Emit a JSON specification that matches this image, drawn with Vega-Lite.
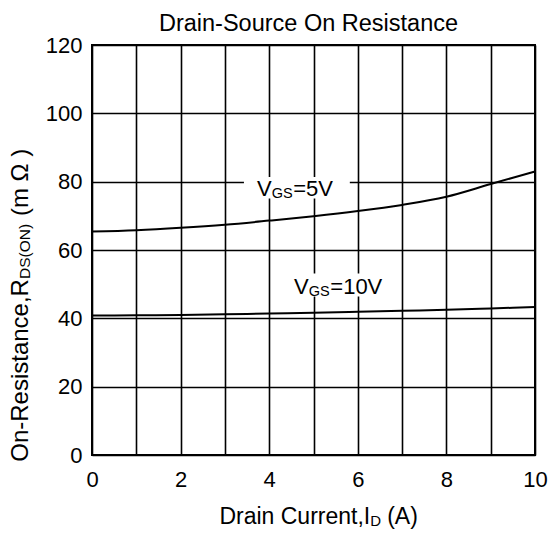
{
  "$schema": "https://vega.github.io/schema/vega-lite/v6.json",
  "width": 443,
  "height": 410,
  "autosize": {"type": "none"},
  "padding": {"left": 92, "top": 45, "right": 13, "bottom": 78},
  "background": "white",
  "title": {
    "text": "Drain-Source On Resistance",
    "font": "Liberation Sans",
    "fontSize": 23.5,
    "fontWeight": "normal",
    "color": "black",
    "anchor": "middle",
    "dx": -5,
    "offset": -1
  },
  "config": {
    "font": "Liberation Sans",
    "view": {"stroke": "black", "strokeWidth": 2},
    "axis": {
      "grid": true,
      "gridColor": "black",
      "gridWidth": 1.6,
      "gridOpacity": 1,
      "domain": false,
      "ticks": false,
      "tickSize": 0,
      "labelFlush": false,
      "labelFont": "Liberation Sans",
      "labelFontSize": 22,
      "labelColor": "black"
    }
  },
  "datasets": {
    "curves": [
      {"I": 0, "R": 65.4, "VGS": "5V"},
      {"I": 1, "R": 65.8, "VGS": "5V"},
      {"I": 2, "R": 66.5, "VGS": "5V"},
      {"I": 3, "R": 67.4, "VGS": "5V"},
      {"I": 4, "R": 68.6, "VGS": "5V"},
      {"I": 5, "R": 69.9, "VGS": "5V"},
      {"I": 6, "R": 71.4, "VGS": "5V"},
      {"I": 7, "R": 73.2, "VGS": "5V"},
      {"I": 8, "R": 75.6, "VGS": "5V"},
      {"I": 9, "R": 79.3, "VGS": "5V"},
      {"I": 10, "R": 83.0, "VGS": "5V"},
      {"I": 0, "R": 40.8, "VGS": "10V"},
      {"I": 1, "R": 40.9, "VGS": "10V"},
      {"I": 2, "R": 41.0, "VGS": "10V"},
      {"I": 3, "R": 41.2, "VGS": "10V"},
      {"I": 4, "R": 41.4, "VGS": "10V"},
      {"I": 5, "R": 41.6, "VGS": "10V"},
      {"I": 6, "R": 41.9, "VGS": "10V"},
      {"I": 7, "R": 42.2, "VGS": "10V"},
      {"I": 8, "R": 42.5, "VGS": "10V"},
      {"I": 9, "R": 42.9, "VGS": "10V"},
      {"I": 10, "R": 43.3, "VGS": "10V"}
    ],
    "labels": [
      {"VGS": "5V", "tail": "=5V", "ax": 4.056, "ay": 75.8, "x0": 3.43, "x1": 5.82, "y0": 75.1, "y1": 81.4},
      {"VGS": "10V", "tail": "=10V", "ax": 4.894, "ay": 47.1, "x0": 4.17, "x1": 6.9, "y0": 46.4, "y1": 53.1}
    ],
    "titles": [
      {"axis": "x", "main": "Drain Current,I", "sub": "D", "tail": "(A)", "ax": 6.28, "ay": -20.2},
      {"axis": "y", "main": "On-Resistance,R", "sub": "DS(ON)", "tail": "(m Ω )", "ax": -1.44, "ay": 51.5}
    ]
  },
  "layer": [
    {
      "data": {"name": "labels"},
      "mark": {"type": "rect", "fill": "white"},
      "encoding": {
        "x": {
          "field": "x0", "type": "quantitative",
          "scale": {"domain": [0, 10], "nice": false, "zero": false},
          "axis": {
            "values": [0, 1, 2, 3, 4, 5, 6, 7, 8, 9, 10],
            "labelExpr": "datum.value % 2 == 0 ? datum.label : ''",
            "labelPadding": 14,
            "title": null
          }
        },
        "x2": {"field": "x1"},
        "y": {
          "field": "y0", "type": "quantitative",
          "scale": {"domain": [0, 120], "nice": false, "zero": false},
          "axis": {
            "values": [0, 10, 20, 30, 40, 50, 60, 70, 80, 90, 100, 110, 120],
            "labelExpr": "datum.value % 20 == 0 ? datum.label : ''",
            "labelPadding": 10,
            "title": null
          }
        },
        "y2": {"field": "y1"}
      }
    },
    {
      "data": {"name": "curves"},
      "mark": {"type": "line", "color": "black", "strokeWidth": 2, "interpolate": "monotone"},
      "encoding": {
        "x": {"field": "I", "type": "quantitative", "title": null},
        "y": {"field": "R", "type": "quantitative", "title": null},
        "detail": {"field": "VGS"}
      }
    },
    {
      "data": {"name": "labels"},
      "mark": {"type": "text", "align": "right", "baseline": "alphabetic", "fontSize": 22, "color": "black"},
      "encoding": {
        "x": {"field": "ax", "type": "quantitative", "title": null},
        "y": {"field": "ay", "type": "quantitative", "title": null},
        "text": {"value": "V"}
      }
    },
    {
      "data": {"name": "labels"},
      "mark": {"type": "text", "align": "left", "baseline": "alphabetic", "fontSize": 14.5, "dy": 2, "color": "black"},
      "encoding": {
        "x": {"field": "ax", "type": "quantitative", "title": null},
        "y": {"field": "ay", "type": "quantitative", "title": null},
        "text": {"value": "GS"}
      }
    },
    {
      "data": {"name": "labels"},
      "mark": {"type": "text", "align": "left", "baseline": "alphabetic", "fontSize": 22, "dx": 21.5, "color": "black"},
      "encoding": {
        "x": {"field": "ax", "type": "quantitative", "title": null},
        "y": {"field": "ay", "type": "quantitative", "title": null},
        "text": {"field": "tail"}
      }
    },
    {
      "data": {"name": "titles"},
      "transform": [{"filter": "datum.axis == 'x'"}],
      "mark": {"type": "text", "align": "right", "baseline": "alphabetic", "fontSize": 23, "color": "black"},
      "encoding": {
        "x": {"field": "ax", "type": "quantitative", "title": null},
        "y": {"field": "ay", "type": "quantitative", "title": null},
        "text": {"field": "main"}
      }
    },
    {
      "data": {"name": "titles"},
      "transform": [{"filter": "datum.axis == 'x'"}],
      "mark": {"type": "text", "align": "left", "baseline": "alphabetic", "fontSize": 15, "dy": 2, "color": "black"},
      "encoding": {
        "x": {"field": "ax", "type": "quantitative", "title": null},
        "y": {"field": "ay", "type": "quantitative", "title": null},
        "text": {"field": "sub"}
      }
    },
    {
      "data": {"name": "titles"},
      "transform": [{"filter": "datum.axis == 'x'"}],
      "mark": {"type": "text", "align": "left", "baseline": "alphabetic", "fontSize": 23, "dx": 17, "color": "black"},
      "encoding": {
        "x": {"field": "ax", "type": "quantitative", "title": null},
        "y": {"field": "ay", "type": "quantitative", "title": null},
        "text": {"field": "tail"}
      }
    },
    {
      "data": {"name": "titles"},
      "transform": [{"filter": "datum.axis == 'y'"}],
      "mark": {"type": "text", "angle": 270, "align": "right", "baseline": "alphabetic", "fontSize": 24, "color": "black"},
      "encoding": {
        "x": {"field": "ax", "type": "quantitative", "title": null},
        "y": {"field": "ay", "type": "quantitative", "title": null},
        "text": {"field": "main"}
      }
    },
    {
      "data": {"name": "titles"},
      "transform": [{"filter": "datum.axis == 'y'"}],
      "mark": {"type": "text", "angle": 270, "align": "left", "baseline": "alphabetic", "fontSize": 15.5, "dy": 2, "color": "black"},
      "encoding": {
        "x": {"field": "ax", "type": "quantitative", "title": null},
        "y": {"field": "ay", "type": "quantitative", "title": null},
        "text": {"field": "sub"}
      }
    },
    {
      "data": {"name": "titles"},
      "transform": [{"filter": "datum.axis == 'y'"}],
      "mark": {"type": "text", "angle": 270, "align": "left", "baseline": "alphabetic", "fontSize": 24, "dx": 63, "color": "black"},
      "encoding": {
        "x": {"field": "ax", "type": "quantitative", "title": null},
        "y": {"field": "ay", "type": "quantitative", "title": null},
        "text": {"field": "tail"}
      }
    }
  ]
}
